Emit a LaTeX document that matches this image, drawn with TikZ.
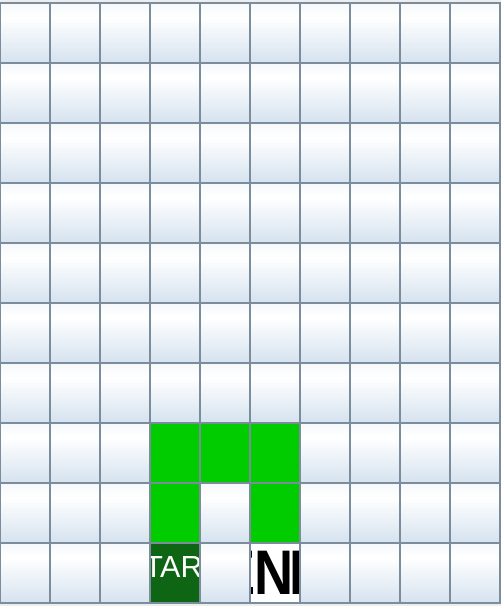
\documentclass[tikz,border=0pt]{standalone}
\usepackage{fontspec}
\setmainfont{Liberation Sans}
\definecolor{celltop}{HTML}{E2EAF3}
\definecolor{cellbot}{HTML}{B9CFE4}
\definecolor{gridline}{HTML}{7B8C9D}
\definecolor{bggrey}{HTML}{EDEDED}
\definecolor{pathgreen}{HTML}{00CC00}
\definecolor{startgreen}{HTML}{0E6614}
\pgfdeclareverticalshading{cellshade}{100bp}{color(0bp)=(cellbot); color(63bp)=(white); color(100bp)=(celltop)}
\tikzset{
  cell/.style={rectangle, minimum width=50pt, minimum height=60pt, inner sep=0pt, outer sep=0pt, shading=cellshade},
  greencell/.style={rectangle, minimum width=50pt, minimum height=60pt, inner sep=0pt, outer sep=0pt, fill=pathgreen},
  startcell/.style={rectangle, minimum width=50pt, minimum height=60pt, inner sep=0pt, outer sep=0pt, fill=startgreen},
  endcell/.style={rectangle, minimum width=50pt, minimum height=60pt, inner sep=0pt, outer sep=0pt, fill=white},
  gridbox/.style={draw=gridline, line width=2pt},
  starttext/.style={text=white, font=\fontsize{30.5}{32}\selectfont, inner sep=0pt},
  endtext/.style={text=black, font=\bfseries\fontsize{63}{64}\selectfont, inner sep=0pt, xscale=0.86}
}
\begin{document}
\begin{tikzpicture}[x=1pt,y=-1pt]
\fill[bggrey] (0,0) rectangle (501,606);
\useasboundingbox (0,0) rectangle (501,606);
% base cells
\foreach \i in {0,...,9}{
  \foreach \j in {0,...,9}{
    \node[cell] (c-\i-\j) at ({50*\i+25},{60*\j+33}) {};
  }
}
% path cells
\node[greencell] (g1) at (c-3-7) {};
\node[greencell] (g2) at (c-4-7) {};
\node[greencell] (g3) at (c-5-7) {};
\node[greencell] (g4) at (c-3-8) {};
\node[greencell] (g5) at (c-5-8) {};
\node[startcell] (start) at (c-3-9) {};
\node[endcell] (end) at (c-5-9) {};
\begin{scope}
  \clip (start.north west) rectangle (start.south east);
  \node[starttext] (starttxt) at ([xshift=-2.7pt,yshift=6pt]start.center) {ST\kern-2.7pt ART};
\end{scope}
\begin{scope}
  \clip (end.north west) rectangle (end.south east);
  \node[endtext] (endtxt) at ([xshift=-1pt,yshift=0.5pt]end.center) {E\kern-2.2pt N\kern-4.85pt D};
\end{scope}
% grid lines
\foreach \i in {0,...,9}{
  \foreach \j in {0,...,9}{
    \draw[gridbox] (c-\i-\j.north west) rectangle (c-\i-\j.south east);
  }
}
\end{tikzpicture}
\end{document}
